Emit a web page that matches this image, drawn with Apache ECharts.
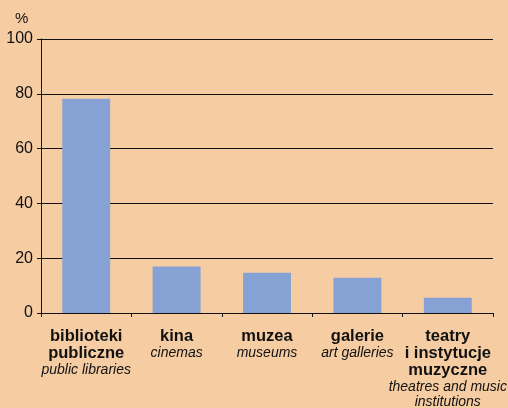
<!DOCTYPE html>
<html>
<head>
<meta charset="utf-8">
<script src="https://cdn.jsdelivr.net/npm/echarts@6/dist/echarts.min.js"></script>
<style>
  html, body { margin: 0; padding: 0; background: #f6cca2; }
  #chart { width: 508px; height: 408px; }
</style>
</head>
<body>
<div id="chart"></div>
<script>
// nazwy kategorii: po polsku (pogrubione) i po angielsku (kursywa)
const namesPl = [
  ['biblioteki', 'publiczne'],
  ['kina'],
  ['muzea'],
  ['galerie'],
  ['teatry', 'i instytucje', 'muzyczne']
]
const namesEn = [
  ['public libraries'],
  ['cinemas'],
  ['museums'],
  ['art galleries'],
  ['theatres and music', 'institutions']
]
const values = [78.2, 17.0, 14.7, 12.9, 5.6]
const yTicks = [0, 20, 40, 60, 80, 100]

const categories = namesPl.map((pl, i) =>
  pl.map((s) => '{b|' + s + '}').join('\n') + '\n' +
  namesEn[i].map((s) => '{i|' + s + '}').join('\n')
)

const chart = echarts.init(document.getElementById('chart'))

const option = {
  backgroundColor: '#f6cca2',
  animation: false,
  title: {
    text: '%',
    left: 10,
    top: 6,
    textStyle: {
      fontFamily: 'Arial, Liberation Sans',
      fontSize: 15,
      fontWeight: 'normal',
      color: '#111'
    }
  },
  grid: {
    left: 41,
    right: 15,
    top: 39,
    bottom: 95,
    containLabel: false,
    outerBoundsMode: 'none'
  },
  xAxis: {
    type: 'category',
    data: categories,
    boundaryGap: true,
    axisLine: { lineStyle: { color: '#111', width: 1 } },
    axisTick: { show: true, length: 4, lineStyle: { color: '#111' } },
    axisLabel: {
      interval: 0,
      margin: 15,
      color: '#111',
      rich: {
        b: {
          fontFamily: 'Arial, Liberation Sans',
          fontWeight: 'bold',
          fontSize: 16.5,
          lineHeight: 17,
          color: '#111'
        },
        i: {
          fontFamily: 'Arial, Liberation Sans',
          fontStyle: 'italic',
          fontSize: 14,
          lineHeight: 15.5,
          color: '#111'
        }
      }
    }
  },
  yAxis: {
    type: 'value',
    min: yTicks[0],
    max: yTicks[yTicks.length - 1],
    interval: 20,
    axisLine: { show: true, lineStyle: { color: '#111', width: 1 } },
    axisTick: { show: true, length: 4, lineStyle: { color: '#111' } },
    axisLabel: {
      margin: 8,
      fontFamily: 'Arial, Liberation Sans',
      fontSize: 16,
      color: '#111'
    },
    splitLine: { show: true, lineStyle: { color: '#111', width: 1 } }
  },
  series: [
    {
      type: 'bar',
      data: values,
      barWidth: '53%',
      itemStyle: { color: '#86a2d4' }
    }
  ]
}

chart.setOption(option)
</script>
</body>
</html>
